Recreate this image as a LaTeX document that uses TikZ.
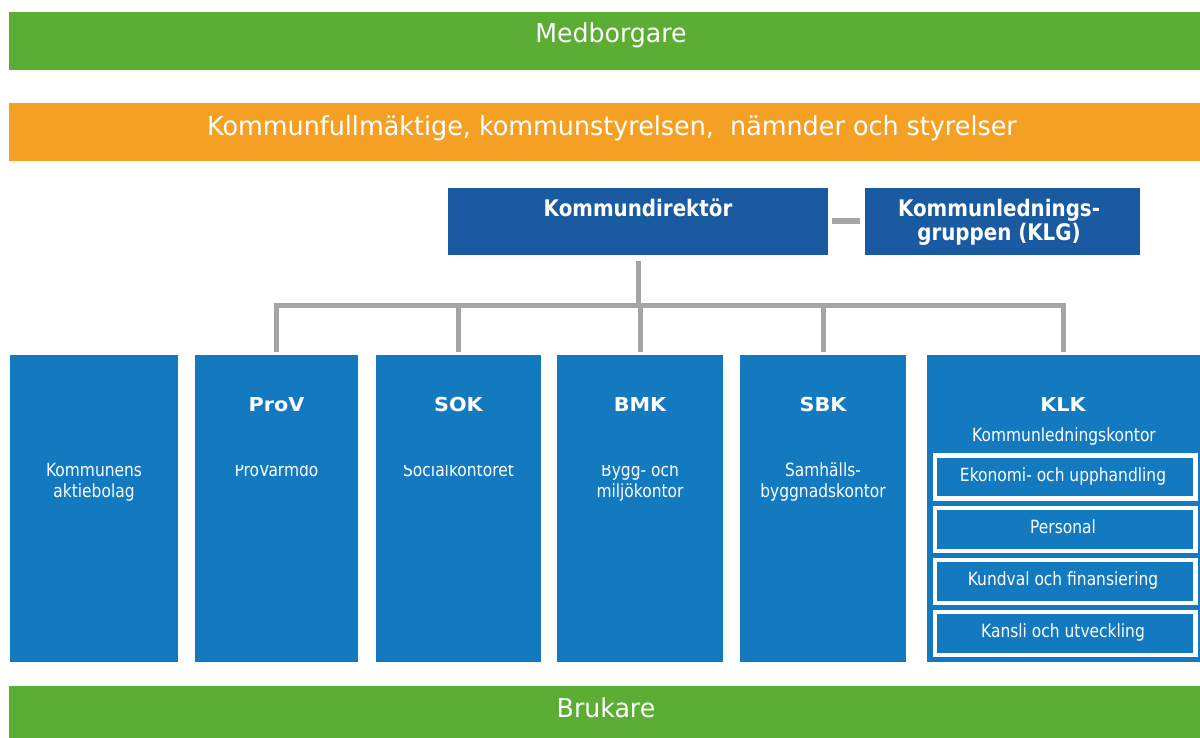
\documentclass[tikz,border=0pt]{standalone}
\usepackage{fontspec}
\setmainfont{DejaVu Sans}
\newfontfamily\barfont{DejaVu Sans}[FakeStretch=0.97]
\newfontfamily\bodyfont{DejaVu Sans}[FakeStretch=0.85]
\newfontfamily\headfont{DejaVu Sans}[FakeStretch=0.87]
\newfontfamily\titlefont{DejaVu Sans}[FakeStretch=1.08]
\definecolor{mgreen}{HTML}{5BAD33}
\definecolor{morange}{HTML}{F4A024}
\definecolor{kdblue}{HTML}{1A5AA0}
\definecolor{boxblue}{HTML}{137ABF}
\definecolor{linegray}{HTML}{A5A5A5}
\tikzset{
  rectbox/.style={anchor=north west, inner sep=0pt, outer sep=0pt, draw=none},
  subbox/.style={inner sep=0pt, outer sep=0pt, draw=white, line width=4.5pt, fill=boxblue,
    minimum width=260.5pt, minimum height=43pt},
  lbl/.style={anchor=base, text=white, inner sep=0pt, outer sep=0pt, align=center},
  barlbl/.style={lbl, font=\barfont\fontsize{26}{30}\selectfont},
  headlbl/.style={lbl, font=\headfont\bfseries\fontsize{22.8}{23.5}\selectfont},
  titlelbl/.style={lbl, font=\titlefont\bfseries\fontsize{19.2}{22}\selectfont},
  bodylbl/.style={lbl, font=\bodyfont\fontsize{18.2}{21}\selectfont},
  conn/.style={draw=linegray, line width=5pt},
}
\begin{document}
\begin{tikzpicture}[x=1pt,y=-1pt]
\useasboundingbox (0,0) rectangle (1200,738);
% bars
\node[rectbox, fill=mgreen, minimum width=1191pt, minimum height=58pt] (med) at (9,12) {};
\node[rectbox, fill=morange, minimum width=1191pt, minimum height=58pt] (kf) at (9,103) {};
\node[rectbox, fill=mgreen, minimum width=1191pt, minimum height=52pt] (bru) at (9,686) {};
\node[barlbl] (tmed) at (611,42.3) {Medborgare};
\node[barlbl, font=\barfont\fontsize{26.2}{30}\selectfont] (tkf) at (612,136) {Kommunfullmäktige, kommunstyrelsen,\ \ nämnder och styrelser};
\node[barlbl] (tbru) at (606,717) {Brukare};
% top boxes
\node[rectbox, fill=kdblue, minimum width=380pt, minimum height=67pt] (kd) at (448,188) {};
\node[rectbox, fill=kdblue, minimum width=275pt, minimum height=67pt] (klg) at (865,188) {};
\node[headlbl] (tkd) at (638,217) {Kommundirektör};
\node[headlbl] (tklg) at (999,240.2) {Kommunlednings-\\gruppen (KLG)};
% lower boxes
\node[rectbox, fill=boxblue, minimum width=168pt, minimum height=307pt] (b1) at (10,355) {};
\node[rectbox, fill=boxblue, minimum width=163pt, minimum height=307pt] (b2) at (195,355) {};
\node[rectbox, fill=boxblue, minimum width=165pt, minimum height=307pt] (b3) at (376,355) {};
\node[rectbox, fill=boxblue, minimum width=166pt, minimum height=307pt] (b4) at (557,355) {};
\node[rectbox, fill=boxblue, minimum width=166pt, minimum height=307pt] (b5) at (740,355) {};
\node[rectbox, fill=boxblue, minimum width=273pt, minimum height=307pt] (b6) at (927,355) {};
% connectors
\coordinate (busy) at (0,305);
\draw[conn] ([yshift=-6pt]kd.south) -- (kd.south |- busy);
\draw[conn, line join=miter] ([yshift=3pt]b2.north) -- (b2.north |- busy) -- (b6.north |- busy) -- ([yshift=3pt]b6.north);
\draw[conn] (b3.north |- busy) -- ([yshift=3pt]b3.north);
\draw[conn] (b4.north |- busy) -- ([yshift=3pt]b4.north);
\draw[conn] (b5.north |- busy) -- ([yshift=3pt]b5.north);
\draw[conn, line width=6pt] ([xshift=4pt]kd.east) -- ([xshift=-5pt]klg.west);
% titles
\node[titlelbl] (tprov) at (b2.north |- 0,411.7) {ProV};
\node[titlelbl] (tsok) at (b3.north |- 0,411.7) {SOK};
\node[titlelbl] (tbmk) at (b4.north |- 0,411.7) {BMK};
\node[titlelbl] (tsbk) at (b5.north |- 0,411.7) {SBK};
\node[titlelbl] (tklk) at (1063,411.7) {KLK};
% subtitles
\node[bodylbl] (sb1) at (b1.north |- 0,497) {Kommunens\\aktiebolag};
\begin{scope}
  \clip (190,465) rectangle (730,520);
  \node[bodylbl] (sb2) at (b2.north |- 0,476) {ProVärmdö};
  \node[bodylbl] (sb3) at (b3.north |- 0,476) {Socialkontoret};
  \node[bodylbl] (sb4) at (b4.north |- 0,497) {Bygg- och\\miljökontor};
\end{scope}
\node[bodylbl] (sb5) at (b5.north |- 0,497) {Samhälls-\\byggnadskontor};
\node[bodylbl] (sb6) at (1064,441.7) {Kommunledningskontor};
% KLK sub boxes
\node[subbox] (s1) at (1065.2,477.2) {};
\node[subbox] (s2) at (1065.2,529.3) {};
\node[subbox] (s3) at (1065.2,581.7) {};
\node[subbox] (s4) at (1065.2,633.7) {};
\node[bodylbl] (ts1) at (1063,481.7) {Ekonomi- och upphandling};
\node[bodylbl] (ts2) at (1063,533) {Personal};
\node[bodylbl] (ts3) at (1063,585.7) {Kundval och finansiering};
\node[bodylbl] (ts4) at (1063,637) {Kansli och utveckling};
\end{tikzpicture}
\end{document}
